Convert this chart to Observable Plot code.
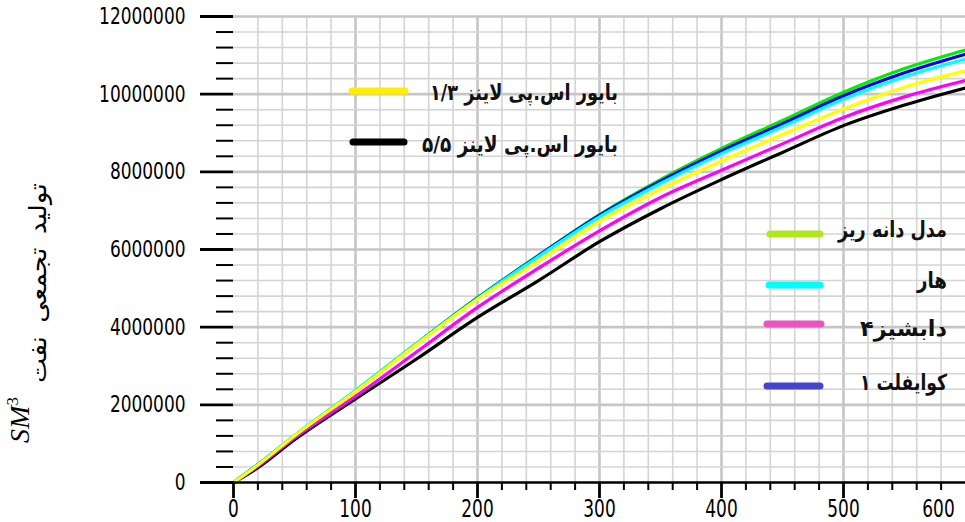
<!DOCTYPE html>
<html>
<head>
<meta charset="utf-8">
<script src="https://cdn.jsdelivr.net/npm/d3@7"></script>
<script src="https://cdn.jsdelivr.net/npm/@observablehq/plot@0.6"></script>
<style>
  body { margin: 0; background: #fff; }
  #chart { position: relative; width: 965px; height: 522px; }
</style>
</head>
<body>
<div id="chart"></div>
<script>
// ---- data ----
const days = [0, 20, 50, 100, 150, 200, 250, 300, 350, 400, 450, 500, 550, 600];

const fineGrid   = [0, 460000, 1200000, 2360000, 3580000, 4760000, 5850000, 6900000, 7800000, 8600000, 9320000, 10050000, 10660000, 11140000]; // مدل دانه ریز
const coiflet1   = [0, 460000, 1200000, 2350000, 3570000, 4750000, 5840000, 6880000, 7760000, 8540000, 9240000, 9960000, 10550000, 11030000];  // کوایفلت ۱
const haar       = [0, 460000, 1210000, 2370000, 3580000, 4740000, 5820000, 6840000, 7700000, 8470000, 9160000, 9870000, 10450000, 10900000];  // هار
const bior13     = [0, 450000, 1200000, 2340000, 3550000, 4720000, 5700000, 6720000, 7550000, 8280000, 8960000, 9620000, 10180000, 10600000];  // بایور ۱/۳
const daub4      = [0, 420000, 1150000, 2220000, 3360000, 4510000, 5520000, 6480000, 7340000, 8040000, 8720000, 9400000, 9930000, 10350000];   // دابشیز۴
const bior55     = [0, 380000, 1100000, 2150000, 3180000, 4250000, 5200000, 6200000, 7050000, 7800000, 8500000, 9190000, 9720000, 10160000];   // بایور ۵/۵

const seriesNames  = ["بایور اس.پی لاینز ۵/۵", "دابشیز۴", "مدل دانه ریز", "کوایفلت ۱", "هار", "بایور اس.پی لاینز ۱/۳"];
const seriesValues = [bior55, daub4, fineGrid, coiflet1, haar, bior13];
const lineColors   = ["#000000", "#ff00ff", "#00ee00", "#0000ff", "#00ffff", "#ffff00"];

const legendLabels = ["بایور اس.پی لاینز ۱/۳", "بایور اس.پی لاینز ۵/۵", "مدل دانه ریز", "هار", "دابشیز۴", "کوایفلت ۱"];
const legendColors = ["#ffee00", "#000000", "#b4e41e", "#00ffff", "#e655c0", "#4444cc"];

const xMajorTicks = [0, 100, 200, 300, 400, 500];
const xLastTick   = [600];
const xMinorTicks = d3.range(20, 600, 20).filter(d => d % 100 !== 0);
const yMajorTicks = [0, 2000000, 4000000, 6000000, 8000000, 10000000, 12000000];
const yMinorTicks = d3.range(400000, 12000000, 400000).filter(d => d % 2000000 !== 0);

const yTitleText = "تولید  تجمعی  نفت";

// ---- build table ----
const rows = [];
seriesNames.forEach((name, s) => {
  days.forEach((d, i) => rows.push({ day: d, value: seriesValues[s][i], series: name }));
});

const chart = Plot.plot({
  width: 965,
  height: 522,
  marginLeft: 233,
  marginRight: 0,
  marginTop: 16,
  marginBottom: 40,
  style: { fontFamily: "DejaVu Sans", background: "#fff" },
  x: { domain: [0, 600], label: null },
  y: { domain: [0, 12000000], label: null },
  color: { domain: seriesNames, range: lineColors },
  marks: [
    Plot.gridX(xMinorTicks, { stroke: "#d4d4d4", strokeOpacity: 1, strokeWidth: 1.6 }),
    Plot.gridX(xMajorTicks.filter(d => d > 0), { stroke: "#c6c6c6", strokeOpacity: 1, strokeWidth: 2.6 }),
    Plot.gridY(yMinorTicks, { stroke: "#d4d4d4", strokeOpacity: 1, strokeWidth: 1.6 }),
    Plot.gridY(yMajorTicks.filter(d => d > 0), { stroke: "#c6c6c6", strokeOpacity: 1, strokeWidth: 2.6 }),
    ...seriesNames.map(name =>
      Plot.line(rows.filter(r => r.series === name), {
        x: "day", y: "value", stroke: "series", strokeWidth: 3.2, curve: "monotone-x"
      })
    ),
    Plot.ruleY([0], { stroke: "#000", strokeWidth: 2.6 }),
    Plot.axisY(yMajorTicks, {
      tickSize: 33, tickPadding: 15, strokeWidth: 2.8, color: "#000",
      fontSize: 23, tickFormat: d => String(d), label: null
    }),
    Plot.axisY(yMinorTicks, { tickSize: 17, strokeWidth: 2, color: "#000", text: null, label: null }),
    Plot.axisX(xMajorTicks, {
      tickSize: 16, tickPadding: 1, strokeWidth: 2.8, color: "#000",
      fontSize: 25, tickFormat: d => String(d), label: null
    }),
    Plot.axisX(xLastTick, {
      tickSize: 0, tickPadding: 17, dx: -27, color: "#000",
      fontSize: 25, tickFormat: d => String(d), label: null
    }),
    Plot.axisX(xMinorTicks, { tickSize: 8, strokeWidth: 2, color: "#000", text: null, label: null })
  ]
});

document.getElementById("chart").appendChild(chart);

// compress tick label glyphs horizontally to match the narrow bitmap font
const svg = d3.select(chart);
svg.selectAll("text").each(function () {
  const t = this.textContent.trim();
  if (/^\d+$/.test(t)) {
    this.setAttribute("textLength", (t.length * 10.8).toFixed(1));
    this.setAttribute("lengthAdjust", "spacingAndGlyphs");
  }
});

// ---- legend ----
const legendPos = [
  { x1: 352, x2: 405, y: 91, tx: 618, ty: 92, w: 188 },
  { x1: 353, x2: 404, y: 142, tx: 618, ty: 144, w: 196 },
  { x1: 770, x2: 820, y: 234, tx: 947, ty: 229, w: 109 },
  { x1: 769, x2: 820, y: 285, tx: 947, ty: 280, w: 30 },
  { x1: 767, x2: 821, y: 324, tx: 947, ty: 328, w: 87 },
  { x1: 767, x2: 820, y: 386, tx: 947, ty: 382, w: 87 }
];
const lg = svg.append("g").attr("aria-label", "legend");
legendLabels.forEach((label, i) => {
  const p = legendPos[i];
  lg.append("line")
    .attr("x1", p.x1).attr("x2", p.x2).attr("y1", p.y).attr("y2", p.y)
    .attr("stroke", legendColors[i]).attr("stroke-width", 7).attr("stroke-linecap", "round");
  lg.append("text")
    .attr("x", p.tx).attr("y", p.ty).attr("dy", "0.35em")
    .attr("text-anchor", "end")
    .attr("font-family", "DejaVu Sans")
    .attr("font-weight", "bold")
    .attr("font-size", 22)
    .attr("textLength", p.w)
    .attr("lengthAdjust", "spacingAndGlyphs")
    .attr("fill", "#111")
    .text(label);
});

// ---- y-axis title ----
const tg = svg.append("g").attr("aria-label", "y-axis title");
tg.append("text")
  .attr("transform", "translate(46,283) rotate(-90)")
  .attr("text-anchor", "middle")
  .attr("font-family", "Liberation Serif, DejaVu Serif, DejaVu Sans")
  .attr("font-size", 24)
  .attr("textLength", 200)
  .attr("lengthAdjust", "spacingAndGlyphs")
  .attr("fill", "#000")
  .text(yTitleText);
const sm = tg.append("text")
  .attr("transform", "translate(29,420) rotate(-90)")
  .attr("text-anchor", "middle")
  .attr("font-family", "Liberation Serif")
  .attr("font-size", 28)
  .attr("fill", "#000");
sm.append("tspan").attr("font-style", "italic").text("SM");
sm.append("tspan").attr("font-size", 17).attr("dy", -11).text("3");
</script>
</body>
</html>
